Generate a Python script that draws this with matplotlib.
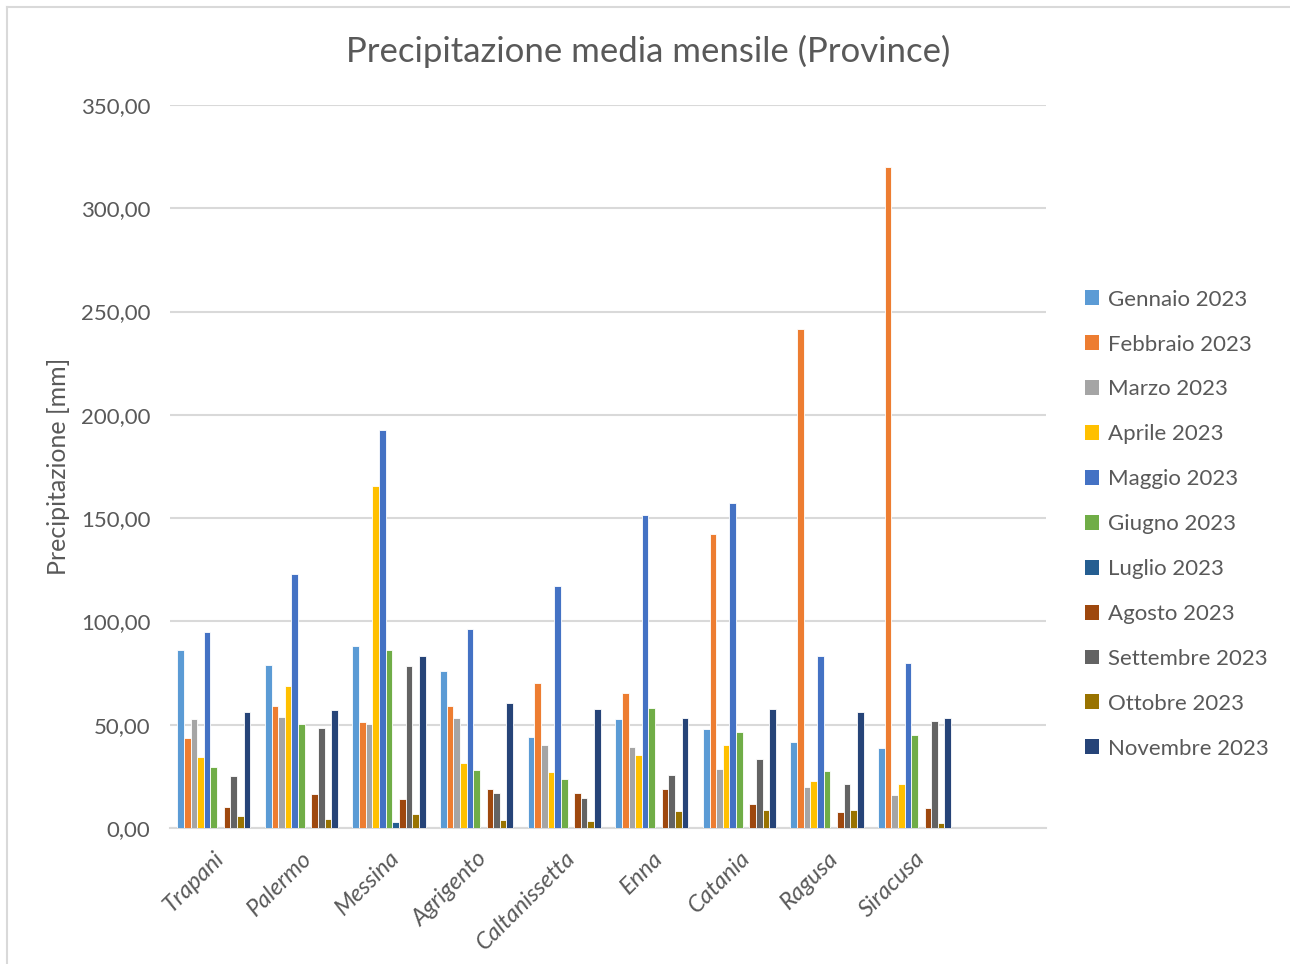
import numpy as np
import matplotlib.pyplot as plt
from matplotlib.lines import Line2D
from matplotlib.patches import Patch

province = ['Trapani', 'Palermo', 'Messina', 'Agrigento', 'Caltanissetta',
            'Enna', 'Catania', 'Ragusa', 'Siracusa']
mesi = ['Gennaio 2023', 'Febbraio 2023', 'Marzo 2023', 'Aprile 2023', 'Maggio 2023',
        'Giugno 2023', 'Luglio 2023', 'Agosto 2023', 'Settembre 2023',
        'Ottobre 2023', 'Novembre 2023']

# one row per month, one value per province
gennaio   = [86.3, 78.9, 87.9, 76.0, 44.2, 52.9, 47.9, 41.8, 38.9]
febbraio  = [43.4, 59.3, 51.5, 59.2, 70.2, 65.5, 142.4, 241.5, 320.0]
marzo     = [52.8, 53.5, 50.3, 53.2, 40.3, 39.0, 28.4, 20.0, 15.8]
aprile    = [34.5, 68.5, 165.5, 31.5, 26.9, 35.5, 40.3, 22.6, 21.4]
maggio    = [94.9, 123.0, 192.9, 96.5, 117.1, 151.6, 157.3, 83.4, 79.7]
giugno    = [29.7, 50.5, 86.3, 28.2, 23.7, 58.1, 46.5, 27.4, 45.0]
luglio    = [0.0, 0.0, 2.9, 0.0, 0.0, 0.0, 0.0, 0.0, 0.0]
agosto    = [10.3, 16.6, 14.0, 19.0, 17.1, 18.7, 11.8, 7.6, 9.8]
settembre = [25.0, 48.4, 78.4, 17.1, 14.7, 25.7, 33.4, 21.4, 51.9]
ottobre   = [5.9, 4.2, 6.9, 3.7, 3.5, 8.2, 8.7, 8.7, 2.6]
novembre  = [56.3, 57.3, 83.1, 60.6, 57.6, 53.2, 57.7, 56.3, 53.4]

valori = [gennaio, febbraio, marzo, aprile, maggio, giugno, luglio,
          agosto, settembre, ottobre, novembre]
colori = ['#5B9BD5', '#ED7D31', '#A5A5A5', '#FFC000', '#4472C4', '#70AD47',
          '#255E91', '#9E480E', '#636363', '#997300', '#264478']

plt.rcParams['font.family'] = ['Lato', 'DejaVu Sans']
grigio = '#595959'

fig = plt.figure(figsize=(12.9, 9.64), dpi=100)
ax = fig.add_axes([170/1290, 136/964, 876/1290, 723/964])

x = np.arange(len(province))
w = 0.0758
for i, (v, c) in enumerate(zip(valori, colori)):
    off = (i - 5) * w
    ax.bar(x + off, v, width=w, color=c, edgecolor='white', linewidth=0.6,
           label=mesi[i], zorder=3)

ax.set_xlim(-0.5, 9.5)
ax.set_ylim(0, 350)
ax.set_yticks(np.arange(0, 351, 50))
ax.set_yticklabels([f'{t:.2f}'.replace('.', ',') for t in np.arange(0, 351, 50)],
                   fontsize=16, color=grigio)
ax.yaxis.grid(True, color='#D9D9D9', linewidth=1.5, zorder=0)
ax.tick_params(axis='y', length=0, pad=14)
ax.set_xticks(x)
ax.set_xticklabels(province, rotation=45, ha='right', rotation_mode='anchor',
                   fontsize=17, color=grigio, style='italic')
ax.tick_params(axis='x', length=0, pad=14)
for s in ['left', 'right', 'top']:
    ax.spines[s].set_visible(False)
ax.spines['bottom'].set_color('#D9D9D9')
ax.spines['bottom'].set_linewidth(1.5)

ax.set_ylabel('Precipitazione [mm]', fontsize=18, color=grigio, labelpad=10)
ax.yaxis.set_label_coords(-100/876, 0.5)
fig.text(648/1290, 1 - 51/964, 'Precipitazione media mensile (Province)',
         ha='center', va='center', fontsize=25, color=grigio)

handles = [Patch(facecolor=c, edgecolor='none') for c in colori]
fig.legend(handles, mesi, loc='upper left', bbox_to_anchor=(1078/1290, 1 - 283/964),
           frameon=False, fontsize=16, labelcolor=grigio, handlelength=0.65,
           handleheight=0.65, handletextpad=0.4, labelspacing=1.12,
           borderaxespad=0, borderpad=0.3)

# chart area border
fig.add_artist(Line2D([7/1290, 7/1290], [0, 1 - 7/964], color='#D9D9D9', lw=1.5))
fig.add_artist(Line2D([7/1290, 1], [1 - 7/964, 1 - 7/964], color='#D9D9D9', lw=1.5))

fig.savefig('out.png', dpi=100)
